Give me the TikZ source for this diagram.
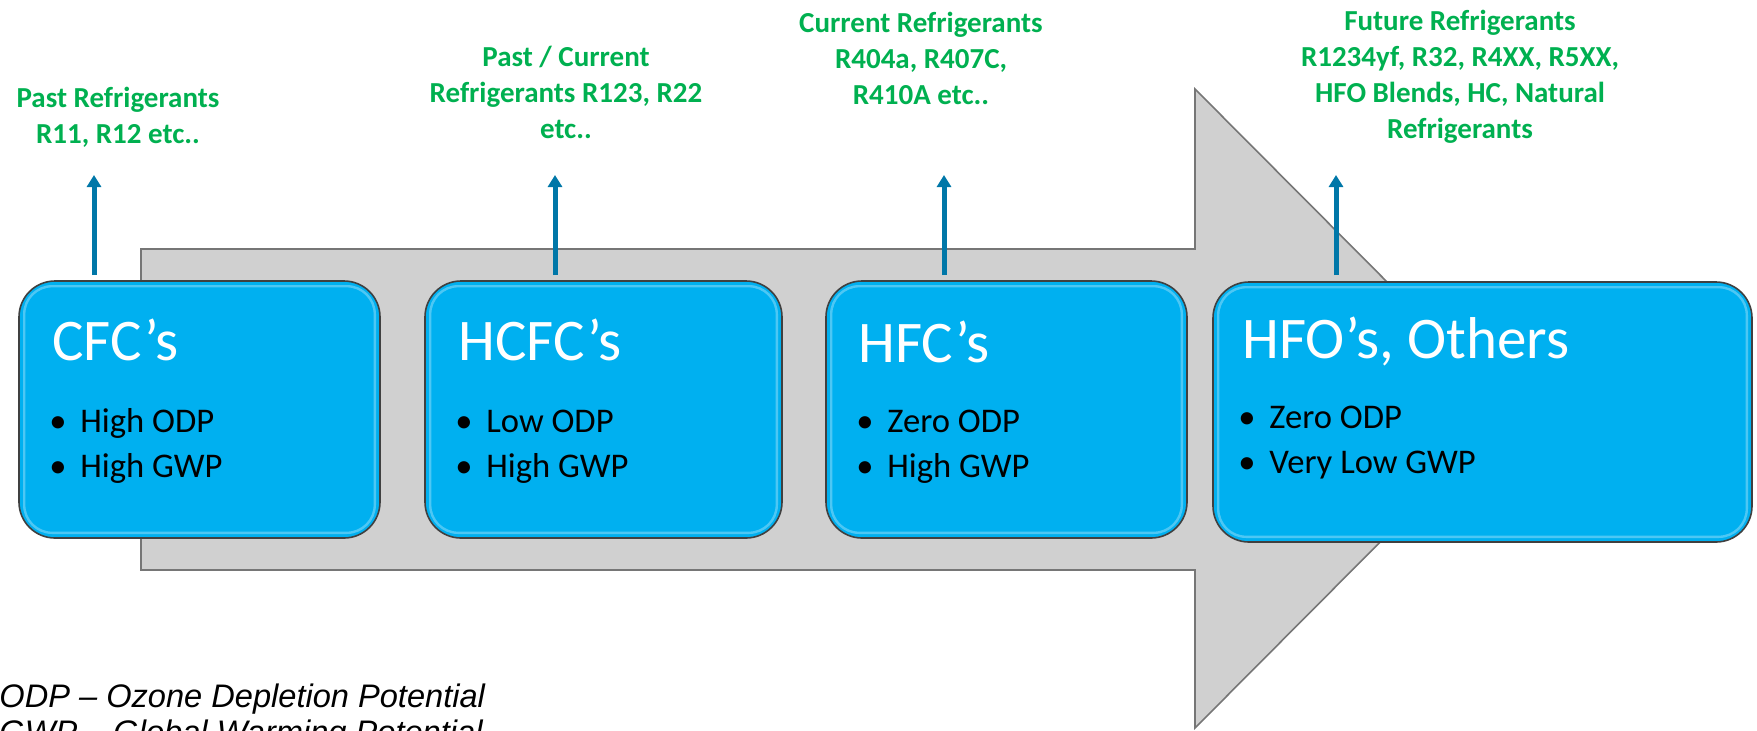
\documentclass[tikz,border=0pt]{standalone}
\usepackage{fontspec}
\setmainfont{Carlito}
\newfontfamily\notefont{Liberation Sans}
\usetikzlibrary{arrows.meta,calc}

\definecolor{boxblue}{RGB}{0,176,240}
\definecolor{refgreen}{RGB}{0,176,80}
\definecolor{arrowblue}{RGB}{0,119,168}
\definecolor{bandgrey}{RGB}{208,208,208}
\definecolor{banddraw}{RGB}{118,118,118}

\newcommand{\blt}{\makebox[15.5pt][l]{\textbullet}}

\begin{document}
\begin{tikzpicture}[x=0.5pt,y=-0.5pt,
  catbox/.style={rectangle,draw=black!75,line width=0.8pt,fill=boxblue,rounded corners=18pt,minimum height=128.5pt},
  gloss/.style={draw=white,opacity=0.3,line width=1.2pt,rounded corners=14pt},
  cattitle/.style={anchor=base west,inner sep=0pt,text=white,font=\fontsize{29.5}{35}\selectfont},
  catlist/.style={anchor=base west,inner sep=0pt,font=\fontsize{17.3}{22.5}\selectfont},
  reflabel/.style={anchor=base,inner sep=0pt,text=refgreen,font=\fontsize{14.5}{18}\selectfont\bfseries},
  uparrow/.style={draw=arrowblue,line width=2.5pt,-{Triangle[width=7pt,length=6pt]}},
  note/.style={anchor=base west,inner sep=0pt,font=\notefont\itshape\fontsize{16.3}{18}\selectfont}]
\useasboundingbox (0,0) rectangle (1757,730);

% Timeline band
\draw[fill=bandgrey,draw=banddraw,line width=0.8pt] (141,249) -- (1195,249) -- (1195,89)
  -- (1513,408.5) -- (1195,728) -- (1195,570) -- (141,570) -- cycle;

% Categories
\node[catbox,minimum width=180.5pt] (cfc) at (199.5,409.5) {};
\node[catbox,minimum width=178.5pt] (hcfc) at (603.5,409.5) {};
\node[catbox,minimum width=180.5pt] (hfc) at (1006.5,409.5) {};
\node[catbox,minimum width=269.5pt,minimum height=130pt] (hfo) at (1482.5,412) {};

\foreach \b in {cfc,hcfc,hfc,hfo} {
  \draw[gloss] ($(\b.north west)+(6,6)$) rectangle ($(\b.south east)+(-6,-6)$);
}

\node[cattitle] (cfc-title) at (52,360) {CFC’s};
\node[cattitle] (hcfc-title) at (458,360) {HCFC’s};
\node[cattitle] (hfc-title) at (858,362) {HFC’s};
\node[cattitle] (hfo-title) at (1242,358) {HFO’s, Others};

\node[catlist] (cfc-list) at (49,432) {\begin{tabular}[t]{@{}l@{}}\blt High ODP\\\blt High GWP\end{tabular}};
\node[catlist] (hcfc-list) at (455,432) {\begin{tabular}[t]{@{}l@{}}\blt Low ODP\\\blt High GWP\end{tabular}};
\node[catlist] (hfc-list) at (856,432) {\begin{tabular}[t]{@{}l@{}}\blt Zero ODP\\\blt High GWP\end{tabular}};
\node[catlist] (hfo-list) at (1238,428) {\begin{tabular}[t]{@{}l@{}}\blt Zero ODP\\\blt Very Low GWP\end{tabular}};

% Refrigerant examples
\node[reflabel] (cfc-ref) at (118,107) {\begin{tabular}[t]{@{}c@{}}Past Refrigerants\\R11, R12 etc..\end{tabular}};
\node[reflabel] (hcfc-ref) at (566,66) {\begin{tabular}[t]{@{}c@{}}Past / Current\\Refrigerants R123, R22\\etc..\end{tabular}};
\node[reflabel] (hfc-ref) at (921,32) {\begin{tabular}[t]{@{}c@{}}Current Refrigerants\\R404a, R407C,\\R410A etc..\end{tabular}};
\node[reflabel] (hfo-ref) at (1460,30) {\begin{tabular}[t]{@{}c@{}}Future Refrigerants\\R1234yf, R32, R4XX, R5XX,\\HFO Blends, HC, Natural\\Refrigerants\end{tabular}};

% Arrows up
\coordinate (cfc-tip) at (94,175);
\coordinate (hcfc-tip) at (555,175);
\coordinate (hfc-tip) at (944,175);
\coordinate (hfo-tip) at (1336,175);
\draw[uparrow] ([yshift=2.5pt]cfc.north -| cfc-tip) -- (cfc-tip);
\draw[uparrow] ([yshift=2.5pt]hcfc.north -| hcfc-tip) -- (hcfc-tip);
\draw[uparrow] ([yshift=2.5pt]hfc.north -| hfc-tip) -- (hfc-tip);
\draw[uparrow] ([yshift=3pt]hfo.north -| hfo-tip) -- (hfo-tip);

% Abbreviations
\node[note] (odp) at (-1,707) {ODP – Ozone Depletion Potential};
\node[note] (gwp) at (-1,743) {GWP – Global Warming Potential};
\end{tikzpicture}
\end{document}
